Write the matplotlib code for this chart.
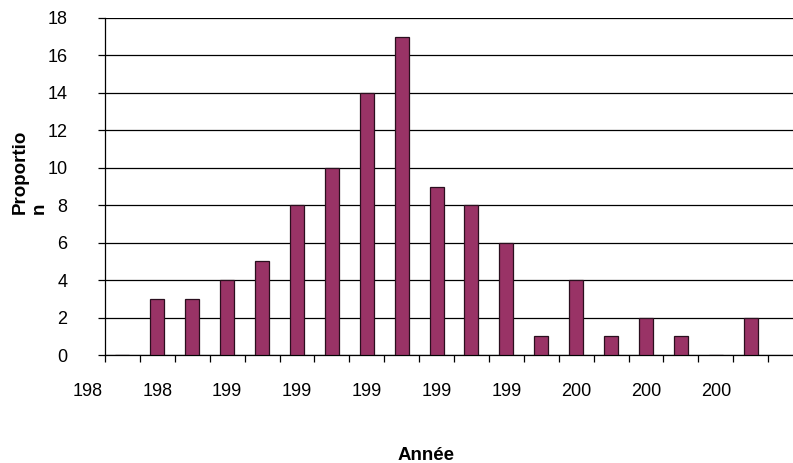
import matplotlib
matplotlib.use("Agg")
import matplotlib.pyplot as plt
import matplotlib.transforms as mtransforms

plt.rcParams['font.family'] = ['Liberation Sans', 'DejaVu Sans']

# années (une barre par an) et proportions
years = list(range(1987, 2006))
values = [0, 3, 3, 4, 5, 8, 10, 14, 17, 9, 8, 6, 1, 4, 1, 2, 1, 0, 2]
label_years = list(range(1986, 2006, 2))
yticks = list(range(0, 19, 2))

fig = plt.figure(figsize=(7.93, 4.63), dpi=100)
# la zone de tracé dépasse à droite, comme sur l'original
ax = fig.add_axes([105 / 793, 108 / 463, 698 / 793, 337 / 463])

ax.bar(years, values, width=0.4, color='#993366', edgecolor='#2a0f1e',
       linewidth=0.9, zorder=3)

ax.set_xlim(1986.5, 2006.5)
ax.set_ylim(0, 18)
ax.set_yticks(yticks)
ax.set_yticklabels([str(v) for v in yticks], fontsize=13)
ax.yaxis.grid(True, color='black', linewidth=0.9)
ax.set_axisbelow(True)

# ticks de l'axe x aux limites des catégories
ax.set_xticks([y + 0.5 for y in range(1986, 2006)])
ax.set_xticklabels([])
ax.tick_params(axis='both', direction='out', length=5, width=0.9, color='black')
ax.tick_params(axis='y', pad=22)

for s in ['top', 'right']:
    ax.spines[s].set_visible(False)
for s in ['left', 'bottom']:
    ax.spines[s].set_linewidth(0.9)
    ax.spines[s].set_color('black')

# étiquettes tronquées (texte coupé à 3 caractères comme dans Excel)
trans = mtransforms.blended_transform_factory(ax.transData, ax.transAxes)
for y in label_years:
    ax.text(y, -0.107, str(y)[:3], transform=trans, ha='center', va='center',
            fontsize=13, clip_on=False)

fig.text(426 / 793, 1 - 455 / 463, 'Année', ha='center', va='center',
         fontsize=13.5, fontweight='bold')
fig.text(30 / 793, 1 - 172 / 463, 'Proportio\nn', rotation=90, ha='center',
         va='center', multialignment='left', fontsize=13.5, fontweight='bold',
         linespacing=1.15)

fig.savefig('out.png', dpi=100)
